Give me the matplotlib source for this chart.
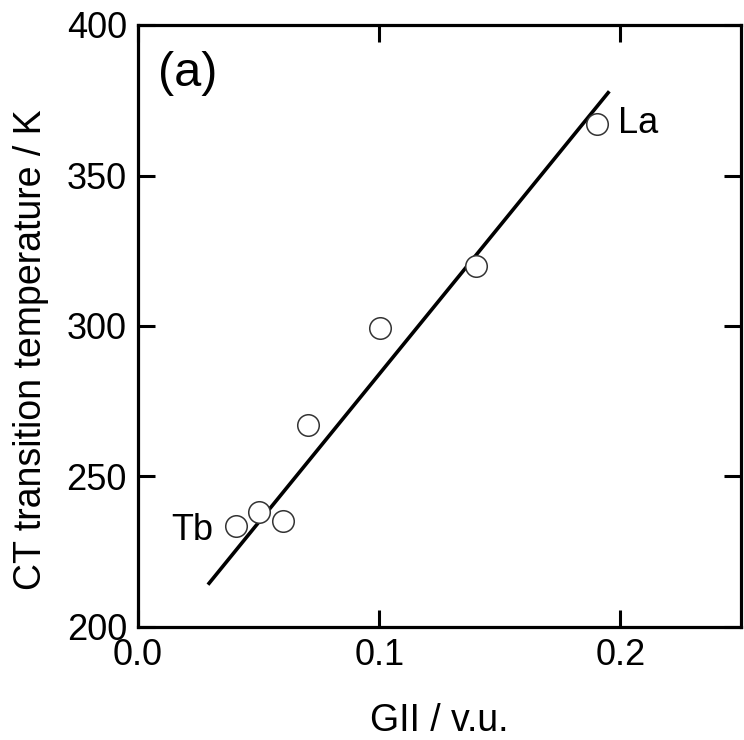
import matplotlib
matplotlib.use("Agg")
import matplotlib.pyplot as plt
import numpy as np

plt.rcParams['font.family'] = ['Liberation Sans', 'DejaVu Sans']

# datos
gii = [0.0405, 0.0503, 0.0603, 0.0705, 0.1003, 0.1400, 0.1903]
temp = [233.4, 238.2, 235.3, 267.0, 299.2, 320.0, 367.1]
ajuste_x = [0.029, 0.1954]
pendiente = 985.0
ordenada = 185.5

fig = plt.figure(figsize=(7.44, 7.40), dpi=100)
ax = fig.add_axes([138/744, 1 - 627/740, (741-138)/744, (627-25)/740])

# recta de ajuste
xs = np.array(ajuste_x)
ax.plot(xs, pendiente * xs + ordenada, color='black', lw=2.6, solid_capstyle='butt')

# puntos
ax.plot(gii, temp, 'o', ms=15.5, mfc='white', mec='#333333', mew=1.1)

ax.text(0.0311, 232, 'Tb', fontsize=26, ha='right', va='center')
ax.text(0.1992, 367.3, 'La', fontsize=26, ha='left', va='center')
ax.text(0.0205, 384, '(a)', fontsize=35, ha='center', va='center')

ax.set_xlim(0, 0.25)
ax.set_ylim(200, 400)
ax.set_xticks([0.0, 0.1, 0.2])
ax.set_xticklabels(['0.0', '0.1', '0.2'])
ax.set_yticks([200, 250, 300, 350, 400])
ax.tick_params(direction='in', length=12, width=2.2, labelsize=26,
               top=True, right=True)
ax.tick_params(axis='x', pad=8)
ax.tick_params(axis='y', pad=8)
for s in ax.spines.values():
    s.set_linewidth(2.3)

ax.set_xlabel('GII / v.u.', fontsize=27)
ax.set_ylabel('CT transition temperature / K', fontsize=27)
ax.xaxis.set_label_coords(0.5, -0.126)
ax.yaxis.set_label_coords(-0.147, 0.46)

fig.savefig('out.png', dpi=100)
